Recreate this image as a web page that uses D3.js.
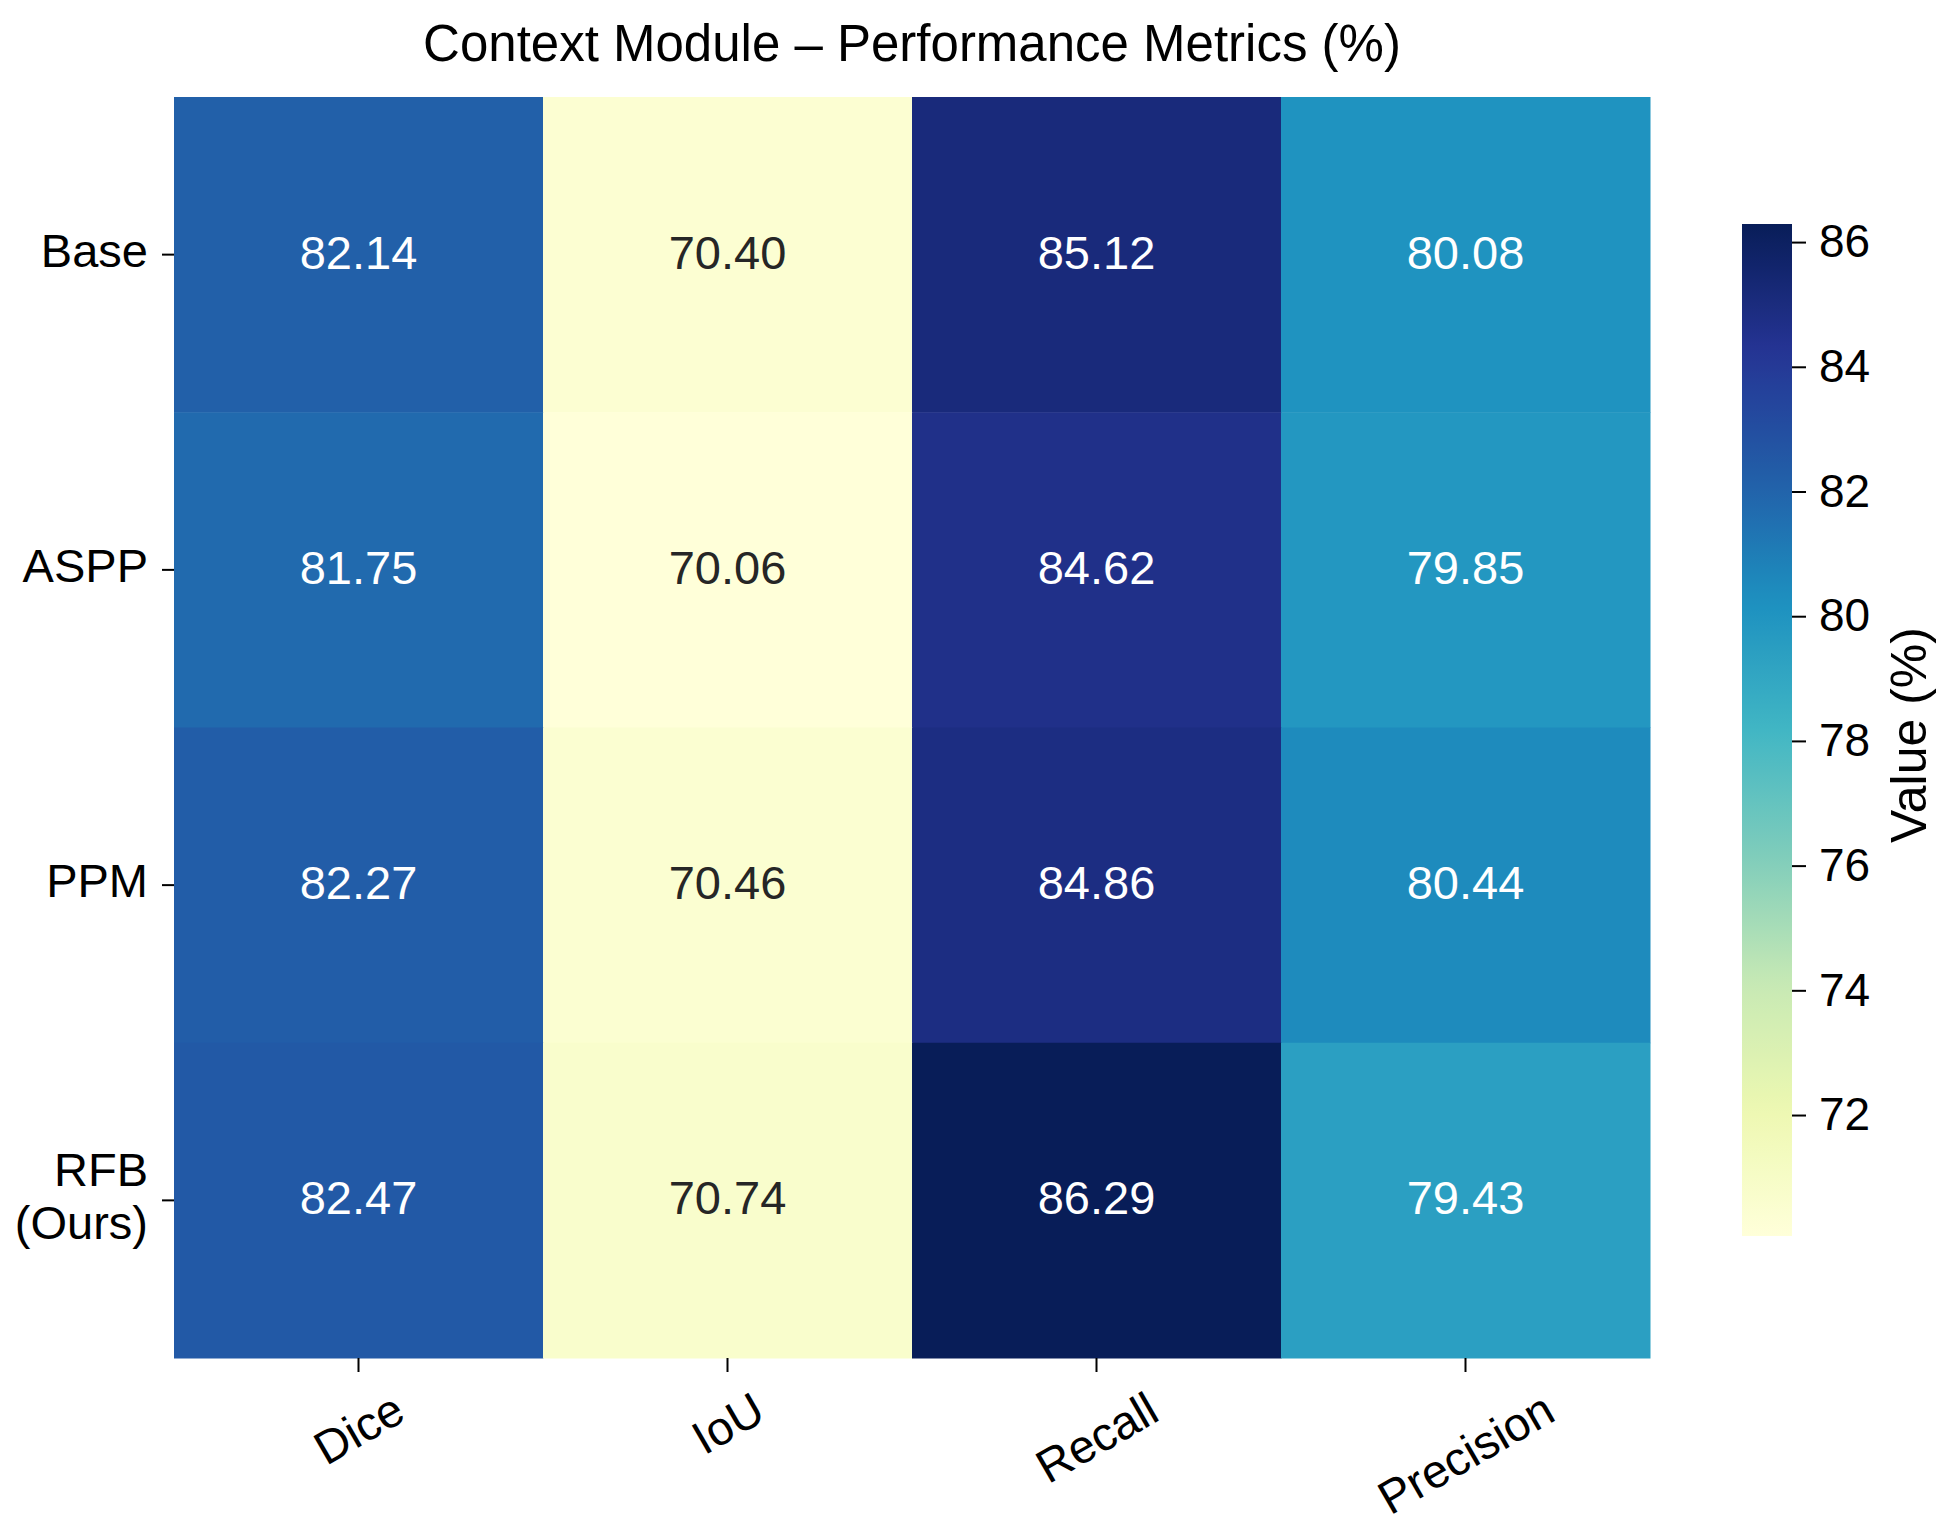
<!DOCTYPE html>
<html>
<head>
<meta charset="utf-8">
<script src="https://cdn.jsdelivr.net/npm/d3@7"></script>
<style>
  body { margin: 0; background: #fff; }
  text { font-family: "Liberation Sans", Arial, sans-serif; }
</style>
</head>
<body>
<div id="chart"></div>
<script>
// DATA
const models = ["Base", "ASPP", "PPM", "RFB\n(Ours)"];
const metrics = ["Dice", "IoU", "Recall", "Precision"];
const dice = [82.14, 81.75, 82.27, 82.47];
const iou = [70.40, 70.06, 70.46, 70.74];
const recall = [85.12, 84.62, 84.86, 86.29];
const precision = [80.08, 79.85, 80.44, 79.43];
const cbarTicks = [72, 74, 76, 78, 80, 82, 84, 86];
// matplotlib YlGnBu anchor colours
const ylgnbu = ["#ffffd9", "#edf8b1", "#c7e9b4", "#7fcdbb", "#41b6c4",
                "#1d91c0", "#225ea8", "#253494", "#081d58"];

const columns = [dice, iou, recall, precision];
const cells = [];
models.forEach((m, r) => {
    metrics.forEach((k, c) => {
        cells.push({model: m, metric: k, value: columns[c][r]});
    });
});

/***** SETUP *****/
const width = 1954, height = 1534;
const plot = {left: 174, right: 1650, top: 97, bottom: 1358};
const cbar = {left: 1742, right: 1792, top: 224, bottom: 1236};

const svg = d3.select("#chart").append("svg")
    .attr("width", width)
    .attr("height", height);

const x = d3.scaleBand().domain(metrics).range([plot.left, plot.right]);
const y = d3.scaleBand().domain(models).range([plot.top, plot.bottom]);

const vmin = d3.min(cells, d => d.value);
const vmax = d3.max(cells, d => d.value);
const color = d3.scaleLinear()
    .domain(d3.range(ylgnbu.length).map(i => vmin + (vmax - vmin) * i / (ylgnbu.length - 1)))
    .range(ylgnbu)
    .interpolate(d3.interpolateRgb);

function textColor(c) {
    const rgb = d3.rgb(c);
    const lin = v => { v /= 255; return v <= 0.03928 ? v / 12.92 : Math.pow((v + 0.055) / 1.055, 2.4); };
    const lum = 0.2126 * lin(rgb.r) + 0.7152 * lin(rgb.g) + 0.0722 * lin(rgb.b);
    return lum < 0.408 ? "#ffffff" : "#262626";
}

/***** TITLE *****/
svg.append("text")
    .attr("x", (plot.left + plot.right) / 2)
    .attr("y", 61)
    .attr("text-anchor", "middle")
    .attr("font-size", 51)
    .attr("fill", "#000")
    .text("Context Module \u2013 Performance Metrics (%)");

/***** CELLS *****/
const g = svg.append("g");
g.selectAll("rect.cell")
    .data(cells)
    .enter()
    .append("rect")
    .attr("class", "cell")
    .attr("x", d => x(d.metric))
    .attr("y", d => y(d.model))
    .attr("width", x.bandwidth() + 0.5)
    .attr("height", y.bandwidth() + 0.5)
    .attr("fill", d => color(d.value));

g.selectAll("text.annot")
    .data(cells)
    .enter()
    .append("text")
    .attr("class", "annot")
    .attr("x", d => x(d.metric) + x.bandwidth() / 2)
    .attr("y", d => y(d.model) + y.bandwidth() / 2 + 14)
    .attr("text-anchor", "middle")
    .attr("font-size", 47)
    .attr("fill", d => textColor(color(d.value)))
    .text(d => d.value.toFixed(2));

/***** Y AXIS *****/
const yAxis = svg.append("g");
models.forEach(m => {
    const cy = y(m) + y.bandwidth() / 2;
    yAxis.append("line")
        .attr("x1", plot.left - 12).attr("x2", plot.left)
        .attr("y1", cy).attr("y2", cy)
        .attr("stroke", "#000").attr("stroke-width", 2);
    const lines = m.split("\n");
    const t = yAxis.append("text")
        .attr("text-anchor", "end")
        .attr("font-size", 47)
        .attr("fill", "#000");
    const lh = 53;
    const first = cy + 12 - (lines.length - 1) * lh / 2;
    lines.forEach((l, i) => {
        t.append("tspan")
            .attr("x", plot.left - 26)
            .attr("y", first + i * lh)
            .text(l);
    });
});

/***** X AXIS *****/
const xAxis = svg.append("g");
const ang = 30 * Math.PI / 180;
metrics.forEach(k => {
    const cx = x(k) + x.bandwidth() / 2;
    xAxis.append("line")
        .attr("x1", cx).attr("x2", cx)
        .attr("y1", plot.bottom).attr("y2", plot.bottom + 14)
        .attr("stroke", "#000").attr("stroke-width", 2);
    const t = xAxis.append("text")
        .attr("text-anchor", "middle")
        .attr("font-size", 47)
        .attr("fill", "#000")
        .text(k);
    const w = t.node().getComputedTextLength();
    const capH = 0.716 * 47;
    const boxH = w * Math.sin(ang) + capH * Math.cos(ang);
    const cy = plot.bottom + 32 + boxH / 2;
    t.attr("x", 0).attr("y", capH / 2)
        .attr("transform", `translate(${cx},${cy}) rotate(-30)`);
});

/***** COLORBAR *****/
const cy = d3.scaleLinear().domain([vmin, vmax]).range([cbar.bottom, cbar.top]);
const defs = svg.append("defs");
const grad = defs.append("linearGradient")
    .attr("id", "cbarGrad")
    .attr("x1", 0).attr("y1", 1).attr("x2", 0).attr("y2", 0);
grad.selectAll("stop")
    .data(d3.range(0, 1.0001, 0.02))
    .enter()
    .append("stop")
    .attr("offset", d => d)
    .attr("stop-color", d => color(vmin + d * (vmax - vmin)));

svg.append("rect")
    .attr("x", cbar.left)
    .attr("y", cbar.top)
    .attr("width", cbar.right - cbar.left)
    .attr("height", cbar.bottom - cbar.top)
    .attr("fill", "url(#cbarGrad)");

const cAxis = svg.append("g")
    .attr("transform", `translate(${cbar.right},0)`)
    .call(d3.axisRight(cy).tickValues(cbarTicks).tickSize(14).tickPadding(13).tickFormat(d3.format("d")));
cAxis.select(".domain").remove();
cAxis.selectAll(".tick line").attr("stroke", "#000").attr("stroke-width", 2);
cAxis.selectAll(".tick text")
    .attr("font-size", 46)
    .attr("font-family", "'Liberation Sans', Arial, sans-serif")
    .attr("fill", "#000");

svg.append("text")
    .attr("transform", `translate(1908,${(cbar.top + cbar.bottom) / 2 + 5}) rotate(-90)`)
    .attr("text-anchor", "middle")
    .attr("dy", "0.35em")
    .attr("font-size", 50)
    .attr("fill", "#000")
    .text("Value (%)");
</script>
</body>
</html>
